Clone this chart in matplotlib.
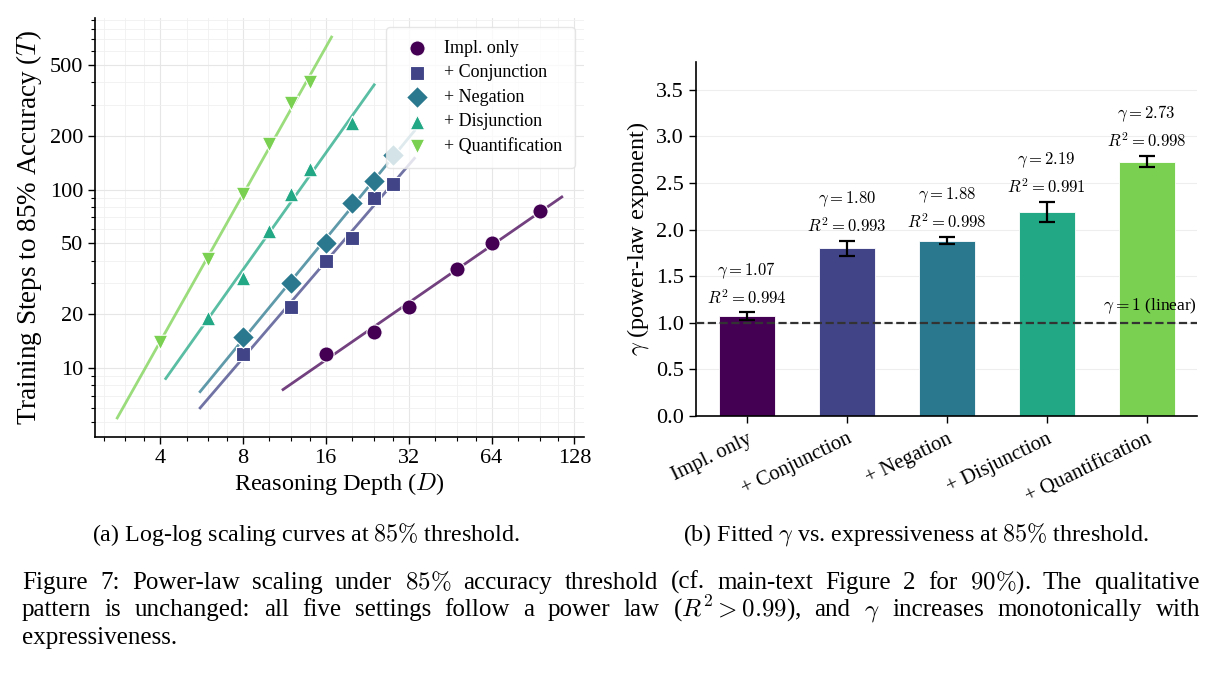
import re
import numpy as np
import matplotlib
matplotlib.use("Agg")
import matplotlib.pyplot as plt
from matplotlib.ticker import LogLocator, FixedLocator, ScalarFormatter, NullFormatter

plt.rcParams['font.family'] = 'serif'
plt.rcParams['font.serif'] = ['Liberation Serif', 'DejaVu Serif']
plt.rcParams['mathtext.fontset'] = 'cm'

# Left panel data: reasoning depth vs training steps to 85% accuracy
names = ["Impl. only", "+ Conjunction", "+ Negation", "+ Disjunction", "+ Quantification"]
depths_impl = [16, 24, 32, 48, 64, 96]
steps_impl = [12, 16, 22, 36, 50, 76]
depths_conj = [8, 12, 16, 20, 24, 28]
steps_conj = [12, 22, 40, 54, 90, 108]
depths_neg = [8, 12, 16, 20, 24, 28]
steps_neg = [15, 30, 50, 84, 112, 156]
depths_disj = [6, 8, 10, 12, 14, 20]
steps_disj = [19, 32, 59, 95, 130, 236]
depths_quant = [4, 6, 8, 10, 12, 14]
steps_quant = [14, 41, 95, 180, 305, 400]

# Right panel data: fitted exponents
gammas = [1.07, 1.80, 1.88, 2.19, 2.73]
gamma_err = [0.04, 0.08, 0.04, 0.11, 0.06]
r2_values = [0.994, 0.993, 0.998, 0.991, 0.998]

colors = [plt.cm.viridis(v) for v in [0.0, 0.2, 0.4, 0.6, 0.8]]
markers = ['o', 's', 'D', '^', 'v']
sizes = [120, 105, 125, 110, 110]

all_depths = [depths_impl, depths_conj, depths_neg, depths_disj, depths_quant]
all_steps = [steps_impl, steps_conj, steps_neg, steps_disj, steps_quant]

W, H = 1218, 675
fig = plt.figure(figsize=(W / 100, H / 100), dpi=100)
ax1 = fig.add_axes([0.078, 0.3526, 0.4015, 0.6207])
ax2 = fig.add_axes([0.5714, 0.3841, 0.4117, 0.524])

# ---- (a) log-log scaling curves ----
for i in range(5):
    d = np.array(all_depths[i], dtype=float)
    t = np.array(all_steps[i], dtype=float)
    slope, icpt = np.polyfit(np.log(d), np.log(t), 1)
    xs = np.geomspace(d.min() * 0.7, d.max() * 1.2, 50)
    ax1.plot(xs, np.exp(icpt) * xs ** slope, color=colors[i], lw=2, alpha=0.75, zorder=2)
    ax1.scatter(d, t, s=sizes[i], marker=markers[i], color=colors[i],
                edgecolor='white', linewidth=0.8, label=names[i], zorder=3)

ax1.set_xscale('log', base=2)
ax1.set_yscale('log')
ax1.xaxis.set_major_locator(FixedLocator([4, 8, 16, 32, 64, 128]))
ax1.xaxis.set_major_formatter(ScalarFormatter())
ax1.xaxis.set_minor_locator(LogLocator(base=2, subs=[1.25, 1.5, 1.75]))
ax1.xaxis.set_minor_formatter(NullFormatter())
ax1.yaxis.set_major_locator(FixedLocator([10, 20, 50, 100, 200, 500]))
ax1.yaxis.set_major_formatter(ScalarFormatter())
ax1.yaxis.set_minor_formatter(NullFormatter())
ax1.grid(True, which='major', color='#e6e6e6', lw=0.8)
ax1.grid(True, which='minor', color='#f0f0f0', lw=0.6)
ax1.set_axisbelow(True)
ax1.tick_params(axis='both', which='major', labelsize=16, length=5, width=1)
ax1.tick_params(axis='both', which='minor', length=3, width=0.8)
ax1.set_xlabel('Reasoning Depth ($D$)', fontsize=17.5, labelpad=2)
ax1.set_ylabel('Training Steps to 85% Accuracy ($T$)', fontsize=19.5, labelpad=4)
for s in ['top', 'right']:
    ax1.spines[s].set_visible(False)
for s in ['left', 'bottom']:
    ax1.spines[s].set_linewidth(1.2)
ax1.legend(loc='upper right', fontsize=13, framealpha=0.8, edgecolor='#e0e0e0',
           borderpad=0.7, handletextpad=0.5, labelspacing=0.42)

# ---- (b) fitted gamma ----
x = np.arange(len(names))
ax2.bar(x, gammas, width=0.56, color=colors, edgecolor='white', linewidth=0.6, zorder=2)
ax2.errorbar(x, gammas, yerr=gamma_err, fmt='none', ecolor='black', elinewidth=1.6,
             capsize=5.5, capthick=1.6, zorder=3)
ax2.axhline(1.0, color='#333333', lw=1.6, ls='--', zorder=4)
ax2.text(4.5, 1.07, r'$\gamma = 1$ (linear)', ha='right', va='bottom', fontsize=12.5)
for i in range(5):
    ax2.text(x[i], gammas[i] + gamma_err[i] + 0.05,
             '$\\gamma = %.2f$\n$R^2 = %.3f$' % (gammas[i], r2_values[i]),
             ha='center', va='bottom', fontsize=12, linespacing=1.55)
ax2.set_ylim(0, 3.8)
ax2.set_yticks(np.arange(0, 3.51, 0.5))
ax2.set_xticks(x)
ax2.set_xticklabels(names, rotation=26, ha='right', rotation_mode='anchor', fontsize=15)
ax2.tick_params(axis='y', labelsize=16, length=5, width=1)
ax2.tick_params(axis='x', length=5, width=1, pad=5)
ax2.set_ylabel(r'$\gamma$ (power-law exponent)', fontsize=17.5)
ax2.grid(True, axis='y', color='#eeeeee', lw=0.8)
ax2.set_axisbelow(True)
for s in ['top', 'right']:
    ax2.spines[s].set_visible(False)
for s in ['left', 'bottom']:
    ax2.spines[s].set_linewidth(1.2)

# ---- captions ----
fig.text(306 / W, 1 - 534 / H, r'(a) Log-log scaling curves at $85\%$ threshold.',
         ha='center', va='center', fontsize=17.3)
fig.text(916 / W, 1 - 534 / H, r'(b) Fitted $\gamma$ vs. expressiveness at $85\%$ threshold.',
         ha='center', va='center', fontsize=17.3)
cap_lines = [
    r'Figure 7: Power-law scaling under $85\%$ accuracy threshold (cf. main-text Figure 2 for $90\%$). The qualitative',
    r'pattern is unchanged: all five settings follow a power law ($R^2 > 0.99$), and $\gamma$ increases monotonically with',
    'expressiveness.',
]
renderer = fig.canvas.get_renderer()
x_left, x_right = 22, 1200
for k, line in enumerate(cap_lines):
    y = 1 - (589 + 27.3 * k) / H
    if k == len(cap_lines) - 1:
        fig.text(x_left / W, y, line, ha='left', va='baseline', fontsize=18)
        continue
    # justify the line like the LaTeX caption
    words = re.findall(r'[^\s$]*\$[^$]*\$\S*|\S+', line)
    texts = [fig.text(0, y, w, ha='left', va='baseline', fontsize=18) for w in words]
    widths = [tx.get_window_extent(renderer).width for tx in texts]
    gap = (x_right - x_left - sum(widths)) / (len(words) - 1)
    pos = x_left
    for tx, wd in zip(texts, widths):
        tx.set_x(pos / W)
        pos += wd + gap

fig.savefig('out.png', dpi=100)
